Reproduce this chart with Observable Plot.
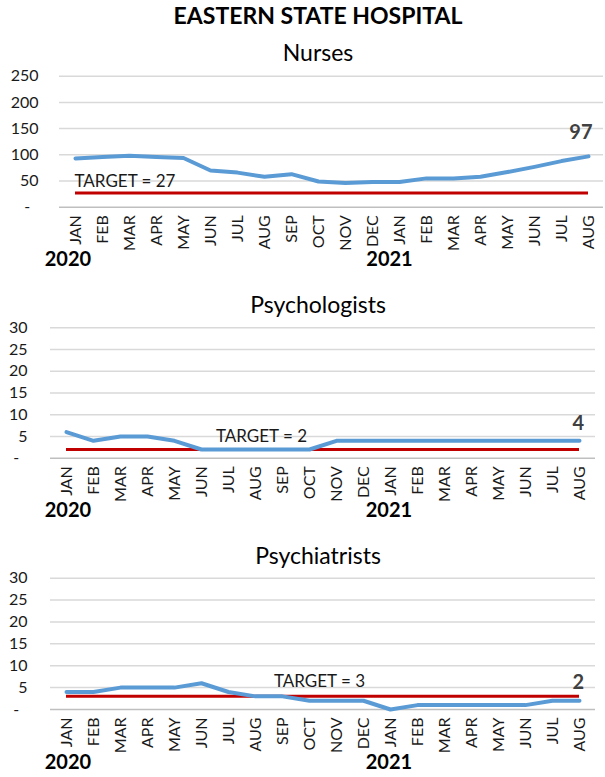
<!DOCTYPE html>
<html><head><meta charset="utf-8">
<script src="https://cdn.jsdelivr.net/npm/d3@7"></script>
<script src="https://cdn.jsdelivr.net/npm/@observablehq/plot@0.6"></script>
<style>
body{margin:0;background:#fff;font-family:Lato, sans-serif;}
#wrap{position:relative;width:605px;height:777px;overflow:hidden;background:#fff;}
.t{position:absolute;left:118px;width:400px;text-align:center;color:#000;white-space:nowrap;}
.main{font-weight:bold;font-size:23px;line-height:28px;}
.sub{font-size:23px;line-height:28px;}
.panel{position:absolute;left:0;}
</style></head><body><div id="wrap"></div>
<script>
const months = ["JAN","FEB","MAR","APR","MAY","JUN","JUL","AUG","SEP","OCT","NOV","DEC","JAN","FEB","MAR","APR","MAY","JUN","JUL","AUG"];
const years = [2020,2020,2020,2020,2020,2020,2020,2020,2020,2020,2020,2020,2021,2021,2021,2021,2021,2021,2021,2021];
const yearLabels = ["2020","2021"];
const nurses = [93,96,98,96,94,70,66,58,63,49,46,48,48,55,55,58,67,77,88,97];
const psychologists = [6,4,5,5,4,2,2,2,2,2,4,4,4,4,4,4,4,4,4,4];
const psychiatrists = [4,4,5,5,5,6,4,3,3,2,2,2,0,1,1,1,1,1,2,2];
const targets = [27,2,3];
const titles = ["Nurses","Psychologists","Psychiatrists"];
const nurseTicks = [0,50,100,150,200,250];
const smallTicks = [0,5,10,15,20,25,30];

const keys = months.map((m,i)=> years[i] + " " + m);
const monthOf = new Map(keys.map((k,i)=>[k, months[i]]));

const wrap = document.getElementById("wrap");
function addText(cls, txt, top){
  const d = document.createElement("div");
  d.className = "t " + cls; d.textContent = txt; d.style.top = top + "px";
  wrap.appendChild(d);
}
addText("main","EASTERN STATE HOSPITAL",1);

const cfg = [
  {values:nurses, target:targets[0], ticks:nurseTicks, domain:[0,250], titleTop:38, top:60, height:215, mt:15.7, mb:68.3, ml:59, mr:2, pad:21,
   tIdx:0, tAnchor:"start", tDx:-1, tDy:-12, eDx:4, eDy:-23.5, yDx:[-7.6,-10]},
  {values:psychologists, target:targets[1], ticks:smallTicks, domain:[0,30], titleTop:290, top:315, height:215, mt:12.3, mb:72.3, ml:50, mr:10, pad:23,
   tIdx:7, tAnchor:"middle", tDx:6, tDy:-12.5, eDx:4.6, eDy:-17.6, yDx:[1.4,-1.6]},
  {values:psychiatrists, target:targets[2], ticks:smallTicks, domain:[0,30], titleTop:541, top:565, height:212, mt:12.7, mb:68, ml:50, mr:10, pad:23,
   tIdx:9, tAnchor:"middle", tDx:10, tDy:-15, eDx:4.6, eDy:-18.6, yDx:[1.4,-1.6]}
];

cfg.forEach((c, p) => {
  addText("sub", titles[p], c.titleTop);
  const data = keys.map((k,i)=>({key:k, v:c.values[i]}));
  const last = data[data.length-1];
  const chart = Plot.plot({
    width:605, height:c.height,
    marginTop:c.mt, marginBottom:c.mb, marginLeft:c.ml, marginRight:c.mr,
    style:{fontFamily:"Lato, sans-serif", fontSize:"16px", color:"#1a1a1a", background:"transparent", overflow:"visible"},
    x:{type:"point", domain:keys, padding:0.5},
    y:{domain:c.domain},
    marks:[
      Plot.ruleY(c.ticks.filter(t=>t>0), {stroke:"#d9d9d9", strokeWidth:1.5}),
      Plot.ruleY([0], {stroke:"#bfbfbf", strokeWidth:1.5}),
      Plot.axisY({ticks:c.ticks, tickSize:0, tickPadding:c.pad, fontSize:16,
        tickFormat:d => d === 0 ? "-\u00a0\u00a0" : String(d)}),
      Plot.axisX({tickRotate:-90, tickSize:0, tickPadding:8, fontSize:16,
        tickFormat:k => monthOf.get(k)}),
      Plot.ruleY([{y:c.target, x1:keys[0], x2:keys[keys.length-1]}], {y:"y", x1:"x1", x2:"x2", stroke:"#c00000", strokeWidth:3}),
      Plot.line(data, {x:"key", y:"v", stroke:"#5b9bd5", strokeWidth:4, strokeLinecap:"round", strokeLinejoin:"round"}),
      Plot.text([{key:keys[c.tIdx], y:c.target, label:"TARGET = " + c.target}], {x:"key", y:"y", text:"label",
        textAnchor:c.tAnchor, dx:c.tDx, dy:c.tDy, fontSize:17, fill:"#1a1a1a"}),
      Plot.text([last], {x:"key", y:"v", text:d=>String(d.v), textAnchor:"end", dx:c.eDx, dy:c.eDy,
        fontSize:20, fontWeight:"bold", fill:"#404040"}),
      Plot.text([{key:keys[0], label:yearLabels[0]}],
        {x:"key", text:"label", frameAnchor:"bottom", dy:59, dx:c.yDx[0], fontSize:20, fontWeight:"bold", fill:"#000"}),
      Plot.text([{key:keys[12], label:yearLabels[1]}],
        {x:"key", text:"label", frameAnchor:"bottom", dy:59, dx:c.yDx[1], fontSize:20, fontWeight:"bold", fill:"#000"})
    ]
  });
  chart.classList.add("panel");
  chart.style.top = c.top + "px";
  wrap.appendChild(chart);
});
</script></body></html>
